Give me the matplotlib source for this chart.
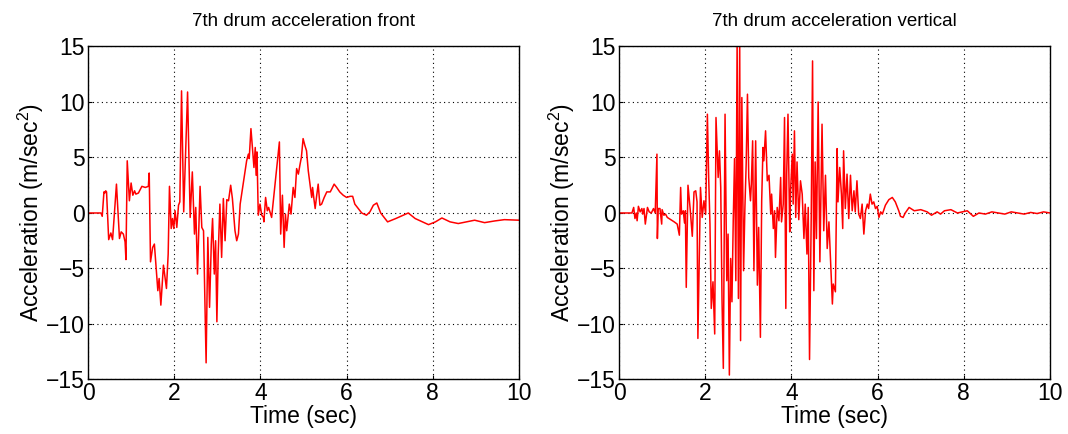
import numpy as np
import matplotlib.pyplot as plt

plt.rcParams['font.family'] = ['Liberation Sans', 'DejaVu Sans']
plt.rcParams['mathtext.default'] = 'regular'

# --- Data (time in sec, acceleration in m/sec^2) ---
t_front = [0.00, 0.30, 0.33, 0.37, 0.39, 0.41, 0.43, 0.48, 0.53, 0.57, 0.66, 0.73,
           0.77, 0.82, 0.86, 0.88, 0.91, 0.96, 1.00, 1.04, 1.08, 1.11, 1.17, 1.25,
           1.33, 1.40, 1.42, 1.45, 1.50, 1.54, 1.58, 1.62, 1.65, 1.69, 1.75, 1.82,
           1.86, 1.89, 1.93, 1.96, 1.99, 2.02, 2.06, 2.10, 2.13, 2.17, 2.22, 2.31,
           2.37, 2.42, 2.47, 2.50, 2.54, 2.60, 2.64, 2.68, 2.74, 2.78, 2.82, 2.86,
           2.89, 2.93, 2.96, 2.99, 3.02, 3.06, 3.10, 3.14, 3.18, 3.22, 3.26, 3.31,
           3.35, 3.41, 3.45, 3.49, 3.53, 3.61, 3.68, 3.72, 3.74, 3.78, 3.82, 3.85,
           3.88, 3.90, 3.92, 3.95, 3.99, 4.03, 4.07, 4.08, 4.12, 4.16, 4.19, 4.26,
           4.44, 4.47, 4.51, 4.55, 4.58, 4.61, 4.67, 4.71, 4.76, 4.80, 4.84, 4.88,
           4.92, 4.95, 4.99, 5.03, 5.07, 5.11, 5.15, 5.19, 5.21, 5.24, 5.27, 5.30,
           5.34, 5.38, 5.42, 5.48, 5.54, 5.62, 5.66, 5.71, 5.77, 5.84, 5.92, 6.00,
           6.08, 6.14, 6.19, 6.27, 6.35, 6.46, 6.54, 6.62, 6.70, 6.79, 6.95, 7.14,
           7.43, 7.59, 7.90, 8.06, 8.21, 8.40, 8.59, 8.78, 8.97, 9.20, 9.43, 9.66, 10.00]
a_front = [0.0, 0.0, -0.3, 1.9, 1.8, 2.0, 1.9, -2.4, -1.8, -2.4, 2.6, -2.3,
           -1.7, -1.9, -2.6, -4.2, 4.7, 1.1, 2.7, 1.6, 2.0, 1.7, 1.8, 2.4,
           2.3, 2.4, 3.6, -4.4, -3.1, -2.8, -4.9, -7.0, -5.9, -8.3, -4.7, -6.8,
           -3.7, 2.4, -1.4, -0.5, -1.4, 0.2, -1.3, 0.7, 1.0, 11.0, 0.1, 10.9,
           -0.4, 3.7, -1.9, 0.5, -5.5, 2.4, -1.3, -1.6, -13.5, -2.2, -8.5, -2.8,
           -0.5, -5.5, -2.5, -9.8, -3.8, 0.8, -4.0, 1.3, -2.5, 1.2, 1.1, 2.5,
           1.3, -1.6, -2.5, -1.9, 0.8, 2.9, 4.7, 5.3, 4.9, 7.6, 5.6, 4.1,
           5.9, 3.4, 5.5, -0.2, 0.8, -0.2, -0.4, -0.8, 1.4, 0.2, 0.5, -0.4,
           6.4, -1.9, 1.6, -3.1, -0.1, -1.6, 0.8, -0.1, 2.3, 1.4, 4.0, 3.5,
           4.4, 5.0, 6.7, 6.1, 5.6, 3.8, 2.6, 1.4, 2.3, 1.3, 0.4, 1.4,
           2.6, 0.7, 0.8, 1.4, 1.9, 1.9, 2.2, 2.6, 2.3, 1.9, 1.6, 1.4,
           1.5, 1.5, 0.8, 0.4, 0.0, -0.2, 0.1, 0.7, 0.9, 0.0, -0.8, -0.5,
           0.0, -0.5, -1.05, -0.8, -0.45, -0.8, -0.95, -0.8, -0.65, -0.87, -0.72, -0.6, -0.65]

t_vert = [0.00, 0.30, 0.34, 0.37, 0.40, 0.42, 0.45, 0.49, 0.53, 0.55, 0.58, 0.61,
          0.66, 0.70, 0.75, 0.80, 0.84, 0.88, 0.89, 0.91, 0.95, 0.99, 1.00, 1.04,
          1.08, 1.12, 1.20, 1.28, 1.35, 1.40, 1.43, 1.45, 1.49, 1.52, 1.54, 1.56,
          1.60, 1.65, 1.70, 1.74, 1.78, 1.81, 1.83, 1.89, 1.93, 1.97, 2.01, 2.05,
          2.08, 2.11, 2.14, 2.18, 2.22, 2.25, 2.30, 2.33, 2.36, 2.39, 2.42, 2.46,
          2.50, 2.53, 2.56, 2.59, 2.62, 2.65, 2.68, 2.71, 2.74, 2.77, 2.80, 2.82,
          2.85, 2.89, 2.92, 2.95, 2.98, 3.01, 3.05, 3.07, 3.10, 3.13, 3.17, 3.21,
          3.24, 3.28, 3.31, 3.34, 3.36, 3.40, 3.44, 3.48, 3.52, 3.54, 3.58, 3.61,
          3.63, 3.67, 3.71, 3.75, 3.77, 3.81, 3.84, 3.87, 3.89, 3.92, 3.96, 3.98,
          4.02, 4.04, 4.07, 4.10, 4.13, 4.17, 4.21, 4.25, 4.29, 4.32, 4.36, 4.39,
          4.42, 4.46, 4.49, 4.52, 4.55, 4.58, 4.62, 4.66, 4.71, 4.75, 4.79, 4.83,
          4.87, 4.90, 4.95, 4.97, 5.02, 5.06, 5.08, 5.12, 5.16, 5.19, 5.21, 5.25,
          5.29, 5.33, 5.37, 5.41, 5.45, 5.48, 5.52, 5.56, 5.60, 5.64, 5.68, 5.72,
          5.76, 5.79, 5.83, 5.87, 5.91, 5.95, 5.99, 6.03, 6.07, 6.11, 6.18, 6.26,
          6.34, 6.41, 6.49, 6.53, 6.59, 6.64, 6.73, 6.85, 7.00, 7.15, 7.25, 7.38,
          7.46, 7.55, 7.70, 7.85, 7.96, 8.08, 8.22, 8.35, 8.50, 8.65, 8.80, 8.95,
          9.10, 9.25, 9.40, 9.55, 9.70, 9.85, 10.00]
a_vert = [0.0, 0.0, 0.5, -0.5, 0.0, -0.7, 0.6, 0.1, 0.4, -0.1, 0.4, -1.0,
          0.5, 0.1, 0.0, 0.4, 0.0, 5.3, -2.3, 0.4, 0.4, -1.0, 0.3, -0.2,
          -0.1, -0.4, -0.6, -0.8, -1.0, -2.0, 2.3, -0.1, 0.2, -0.9, 0.2, -6.7,
          2.5, 0.4, -2.1, 1.9, 2.0, 1.0, -11.3, 2.3, -0.4, 1.1, -0.1, 8.9,
          3.2, -1.0, -8.6, -6.2, -10.9, 8.6, 3.2, 5.6, 2.3, -7.9, -14.0, 8.9,
          -6.1, -1.9, -14.6, -4.1, -8.0, -0.7, 4.9, -6.1, 15.5, -7.7, 15.5, -11.5,
          10.4, -5.2, 0.4, 4.4, 10.7, 3.2, 1.1, 2.6, 6.5, -5.2, 6.5, -6.5,
          -1.3, -11.2, 1.1, 5.9, 4.7, 7.4, 2.9, 3.4, -0.1, 1.7, -1.4, 0.2,
          -4.0, 0.5, -0.7, 3.2, -0.8, 0.8, 8.6, -8.6, 3.5, 8.9, -1.7, 2.0,
          5.3, 0.8, 7.4, -0.4, 4.6, -0.6, 2.9, 1.7, -2.3, 0.8, -3.7, 0.5,
          -13.2, -0.1, 13.7, -7.0, 4.6, -2.3, 10.0, -4.4, 8.0, -1.6, 3.4, -3.2,
          -0.8, -3.5, -8.2, -6.4, -7.1, 5.8, 1.0, 4.1, 1.7, -1.4, 5.6, 0.4,
          3.5, -0.5, 3.4, 0.2, 2.0, 0.1, 2.9, -0.1, -0.5, 0.8, -1.9, 0.2,
          0.8, 0.4, 1.7, 0.8, 1.0, 0.4, 0.6, -0.4, 0.1, -0.1, 0.7, 1.2,
          1.4, 1.0, 0.2, -0.3, -0.4, 0.0, 0.5, 0.2, 0.3, 0.1, -0.2, 0.1,
          -0.1, 0.2, 0.3, 0.0, 0.1, 0.2, -0.3, 0.0, -0.1, 0.1, 0.0, -0.1,
          0.1, 0.0, -0.1, 0.05, -0.05, 0.1, 0.0]

titles = ["7th drum acceleration front", "7th drum acceleration vertical"]
yticks = [-15, -10, -5, 0, 5, 10, 15]
xticks = [0, 2, 4, 6, 8, 10]

fig = plt.figure(figsize=(10.68, 4.34), dpi=100)
ax1 = fig.add_axes([0.0824, 0.1256, 0.4036, 0.7673])
ax2 = fig.add_axes([0.5796, 0.1256, 0.4036, 0.7673])

for ax, t, a, title in [(ax1, t_front, a_front, titles[0]),
                        (ax2, t_vert, a_vert, titles[1])]:
    ax.plot(t, a, color='red', linewidth=1.1)
    ax.set_xlim(0, 10)
    ax.set_ylim(-15, 15)
    ax.set_xticks(xticks)
    ax.set_yticks(yticks)
    ax.set_yticklabels(['\u221215', '\u221210', '\u22125', '0', '5', '10', '15'])
    ax.grid(True, color='black', linestyle=(0, (1, 3)), linewidth=0.8)
    ax.tick_params(direction='in', length=3, labelsize=16.5, pad=2)
    for s in ax.spines.values():
        s.set_linewidth(1.0)
    ax.set_title(title, fontsize=13.5, pad=15)
    ax.set_xlabel("Time (sec)", fontsize=16.5, labelpad=0)
    ax.set_ylabel("Acceleration (m/sec$^2$)", fontsize=16.5, labelpad=0)

fig.savefig("out.png", dpi=100)
